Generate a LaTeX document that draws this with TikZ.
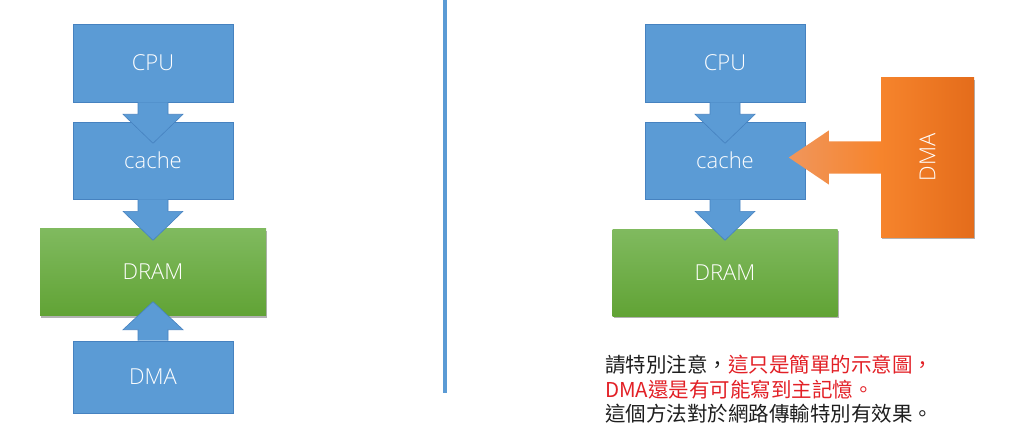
\documentclass[tikz,border=0pt]{standalone}
\usepackage{fontspec}
\setmainfont{Open Sans Light}
\newfontfamily\cjk{Noto Sans CJK TC}
\usetikzlibrary{calc,shadows}

\definecolor{cpublue}{RGB}{91,155,213}
\definecolor{edgeblue}{RGB}{70,130,192}
\definecolor{dramtop}{RGB}{128,186,95}
\definecolor{drambot}{RGB}{97,163,53}
\definecolor{dmaleft}{RGB}{246,132,44}
\definecolor{dmaright}{RGB}{228,108,27}
\definecolor{tipleft}{RGB}{240,150,92}
\definecolor{notered}{RGB}{226,32,38}
\definecolor{noteblack}{RGB}{30,30,30}

\tikzset{
  box/.style={rectangle, minimum width=160pt, minimum height=78pt, inner sep=0pt,
    text=white, font=\fontsize{22}{26}\selectfont},
  bluebox/.style={box, fill=cpublue, draw=edgeblue, line width=0.6pt},
  drambox/.style={box, minimum width=226pt, minimum height=87pt,
    top color=dramtop, bottom color=drambot,
    drop shadow={shadow xshift=1pt, shadow yshift=-2pt, opacity=0.3, fill=black}},
  dmabox/.style={box, minimum width=93pt, minimum height=159pt,
    left color=dmaleft, right color=dmaright,
    drop shadow={shadow xshift=1pt, shadow yshift=-2pt, opacity=0.3, fill=black}},
  arrowblue/.style={fill=cpublue, draw=edgeblue, line width=0.6pt},
  arrowdma/.style={left color=tipleft, right color=dmaleft},
}

% block arrow: #2 from, #3 towards, #4 head base, #5 tip (distances from #2)
\newcommand{\blockarrow}[5][arrowblue]{%
  \path[#1] ($(#2)!\shaft!90:(#3)$)
    -- ($(#2)!#4!(#3)!\shaft!90:(#3)$)
    -- ($(#2)!#4!(#3)!\head!90:(#3)$)
    -- ($(#2)!#5!(#3)$)
    -- ($(#2)!#4!(#3)!\head!-90:(#3)$)
    -- ($(#2)!#4!(#3)!\shaft!-90:(#3)$)
    -- ($(#2)!\shaft!-90:(#3)$);}

\begin{document}
\begin{tikzpicture}[x=1pt, y=-1pt]
\useasboundingbox (0,0) rectangle (1009,433);

\def \shaft {15pt}
\def \head {30pt}
% left: everything goes through DRAM
  \node[bluebox] (cpuL) at (153,63) {CPU};
  \node[bluebox, minimum height=77pt] (cacheL) at (153,160.5) {cache};
  \node[drambox] (dramL) at (153,272) {DRAM};
  \node[bluebox, minimum height=72pt] (dmaL) at (153,377) {DMA};
  \blockarrow{cpuL.south}{cacheL.north}{12pt}{41pt}
  \blockarrow{cacheL.south}{dramL.north}{12pt}{41pt}
  \blockarrow{dmaL.north}{dramL.south}{11pt}{39pt}
%
  \draw[line width=4pt, cpublue] (445,0) -- (445,393);
%
% right: DMA writes into the cache
  \node[bluebox] (cpuR) at (725,63) {CPU};
  \node[bluebox, minimum height=77pt] (cacheR) at (725,160.5) {cache};
  \node[drambox, minimum width=225pt] (dramR) at (725,272.5) {DRAM};
  \node[dmabox] (dmaR) at (927.5,157.5) {\rotatebox{90}{DMA}};
  \blockarrow{cpuR.south}{cacheR.north}{12pt}{41pt}
  \blockarrow{cacheR.south}{dramR.north}{12pt}{41pt}
  \coordinate (dmatip) at (dmaR.west -| cacheR.center);
\def \shaft {16pt}
\def \head {27pt}
  \blockarrow[arrowdma]{dmaR.west}{dmatip}{52pt}{92pt}
%
  \node[anchor=north west, inner sep=0pt, align=left, text=noteblack,
    font=\cjk\fontsize{20.5}{24.5}\selectfont] (note) at (605,355)
    {請特別注意，\textcolor{notered}{這只是簡單的示意圖，}\\
     \textcolor{notered}{DMA還是有可能寫到主記憶。}\\
     這個方法對於網路傳輸特別有效果。};
\end{tikzpicture}
\end{document}
